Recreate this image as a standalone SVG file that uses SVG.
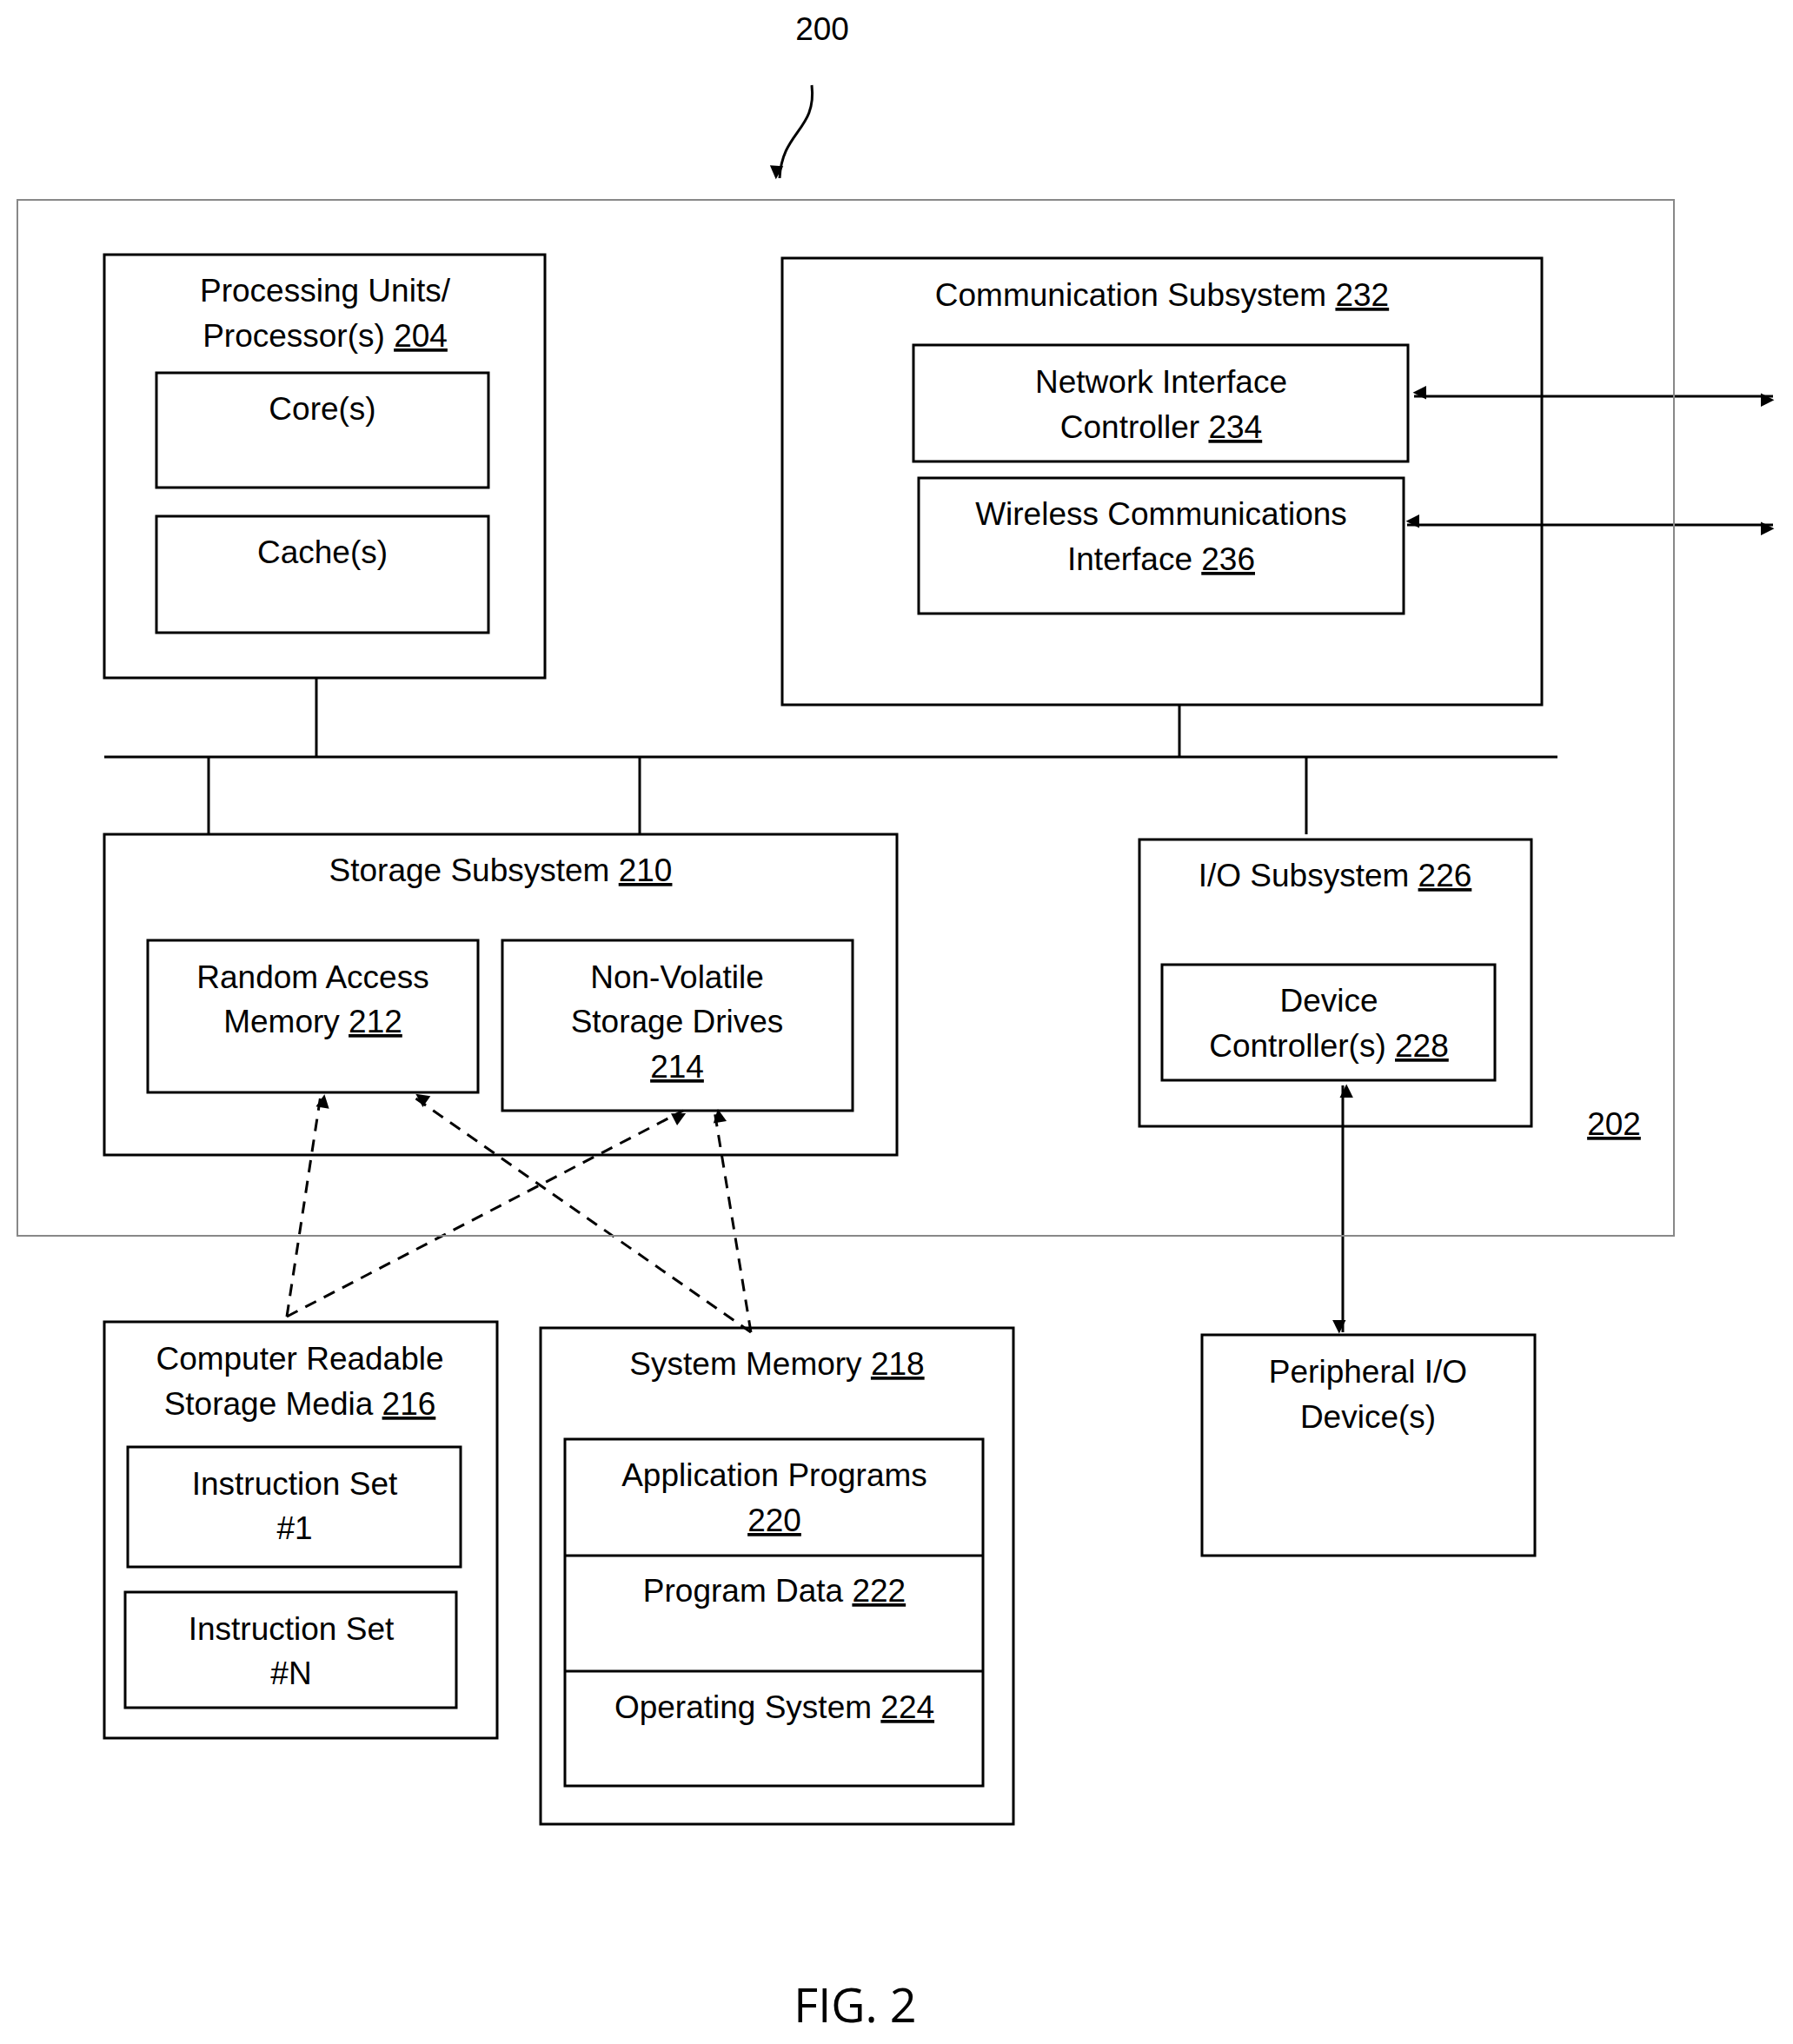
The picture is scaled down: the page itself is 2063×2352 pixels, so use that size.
<svg xmlns="http://www.w3.org/2000/svg" width="2063" height="2352" viewBox="0 0 2063 2352">
<style>
rect{fill:none;stroke:#000;stroke-width:3}
line,path{stroke:#000;stroke-width:3;fill:none}
.d{stroke-dasharray:14,10}
text{font-family:"Liberation Sans",Arial,sans-serif;font-size:37px;text-anchor:middle;fill:#000}
.u{text-decoration:underline}
</style>
<defs>
<marker id="a" viewBox="0 0 10 10" refX="9" refY="5" markerWidth="7" markerHeight="7" orient="auto-start-reverse" markerUnits="userSpaceOnUse" style="overflow:visible"><path d="M0,0L10,5L0,10z" style="fill:#000;stroke:none" transform="scale(2.2) translate(-5,0)"/></marker>
</defs>
<text x="946" y="46">200</text>
<g id="connectors">
<path d="M934,98 C940,150 900,150 897,205" marker-end="url(#a)"/>
<line x1="120" y1="871" x2="1792" y2="871"/>
<line x1="364" y1="780" x2="364" y2="871"/>
<line x1="1357" y1="811" x2="1357" y2="871"/>
<line x1="240" y1="871" x2="240" y2="960"/>
<line x1="736" y1="871" x2="736" y2="960"/>
<line x1="1503" y1="871" x2="1503" y2="960"/>
<line x1="1627" y1="456" x2="2040" y2="456" marker-start="url(#a)" marker-end="url(#a)"/>
<line x1="1619" y1="604" x2="2040" y2="604" marker-start="url(#a)" marker-end="url(#a)"/>
<line x1="1545" y1="1249" x2="1545" y2="1533" marker-start="url(#a)" marker-end="url(#a)"/>
<line class="d" x1="330" y1="1515" x2="369" y2="1260" marker-end="url(#a)"/>
<line class="d" x1="330" y1="1515" x2="786" y2="1278" marker-end="url(#a)"/>
<line class="d" x1="864" y1="1533" x2="477" y2="1263" marker-end="url(#a)"/>
<line class="d" x1="864" y1="1533" x2="822" y2="1278" marker-end="url(#a)"/>
</g>
<g id="n202"><rect x="20" y="230" width="1906" height="1192" style="stroke:#888;stroke-width:2"/><text x="1857" y="1306" class="u">202</text></g>
<g id="n204"><rect x="120" y="293" width="507" height="487"/><text x="374" y="347">Processing Units/</text><text x="374" y="399">Processor(s) <tspan class="u">204</tspan></text></g>
<g id="core"><rect x="180" y="429" width="382" height="132"/><text x="371" y="483">Core(s)</text></g>
<g id="cache"><rect x="180" y="594" width="382" height="134"/><text x="371" y="648">Cache(s)</text></g>
<g id="n232"><rect x="900" y="297" width="874" height="514"/><text x="1337" y="352">Communication Subsystem <tspan class="u">232</tspan></text></g>
<g id="n234"><rect x="1051" y="397" width="569" height="134"/><text x="1336" y="452">Network Interface</text><text x="1336" y="504">Controller <tspan class="u">234</tspan></text></g>
<g id="n236"><rect x="1057" y="550" width="558" height="156"/><text x="1336" y="604">Wireless Communications</text><text x="1336" y="656">Interface <tspan class="u">236</tspan></text></g>
<g id="n210"><rect x="120" y="960" width="912" height="369"/><text x="576" y="1014">Storage Subsystem <tspan class="u">210</tspan></text></g>
<g id="n212"><rect x="170" y="1082" width="380" height="175"/><text x="360" y="1137">Random Access</text><text x="360" y="1188">Memory <tspan class="u">212</tspan></text></g>
<g id="n214"><rect x="578" y="1082" width="403" height="196"/><text x="779" y="1137">Non-Volatile</text><text x="779" y="1188">Storage Drives</text><text x="779" y="1240" class="u">214</text></g>
<g id="n226"><rect x="1311" y="966" width="451" height="330"/><text x="1536" y="1020">I/O Subsystem <tspan class="u">226</tspan></text></g>
<g id="n228"><rect x="1337" y="1110" width="383" height="133"/><text x="1529" y="1164">Device</text><text x="1529" y="1216">Controller(s) <tspan class="u">228</tspan></text></g>
<g id="periph"><rect x="1383" y="1536" width="383" height="254"/><text x="1574" y="1591">Peripheral I/O</text><text x="1574" y="1643">Device(s)</text></g>
<g id="n216"><rect x="120" y="1521" width="452" height="479"/><text x="345" y="1576">Computer Readable</text><text x="345" y="1628">Storage Media <tspan class="u">216</tspan></text></g>
<g id="is1"><rect x="147" y="1665" width="383" height="138"/><text x="339" y="1720">Instruction Set</text><text x="339" y="1771">#1</text></g>
<g id="isn"><rect x="144" y="1832" width="381" height="133"/><text x="335" y="1887">Instruction Set</text><text x="335" y="1938">#N</text></g>
<g id="n218"><rect x="622" y="1528" width="544" height="571"/><text x="894" y="1582">System Memory <tspan class="u">218</tspan></text>
<rect x="650" y="1656" width="481" height="399"/><line x1="650" y1="1790" x2="1131" y2="1790"/><line x1="650" y1="1923" x2="1131" y2="1923"/></g>
<g id="n220"><text x="891" y="1710">Application Programs</text><text x="891" y="1762" class="u">220</text></g>
<g id="n222"><text x="891" y="1843">Program Data <tspan class="u">222</tspan></text></g>
<g id="n224"><text x="891" y="1977">Operating System <tspan class="u">224</tspan></text></g>
<text x="984" y="2327" style="font-family:'Open Sans','DejaVu Sans',sans-serif;font-size:54px">FIG. 2</text>
</svg>
